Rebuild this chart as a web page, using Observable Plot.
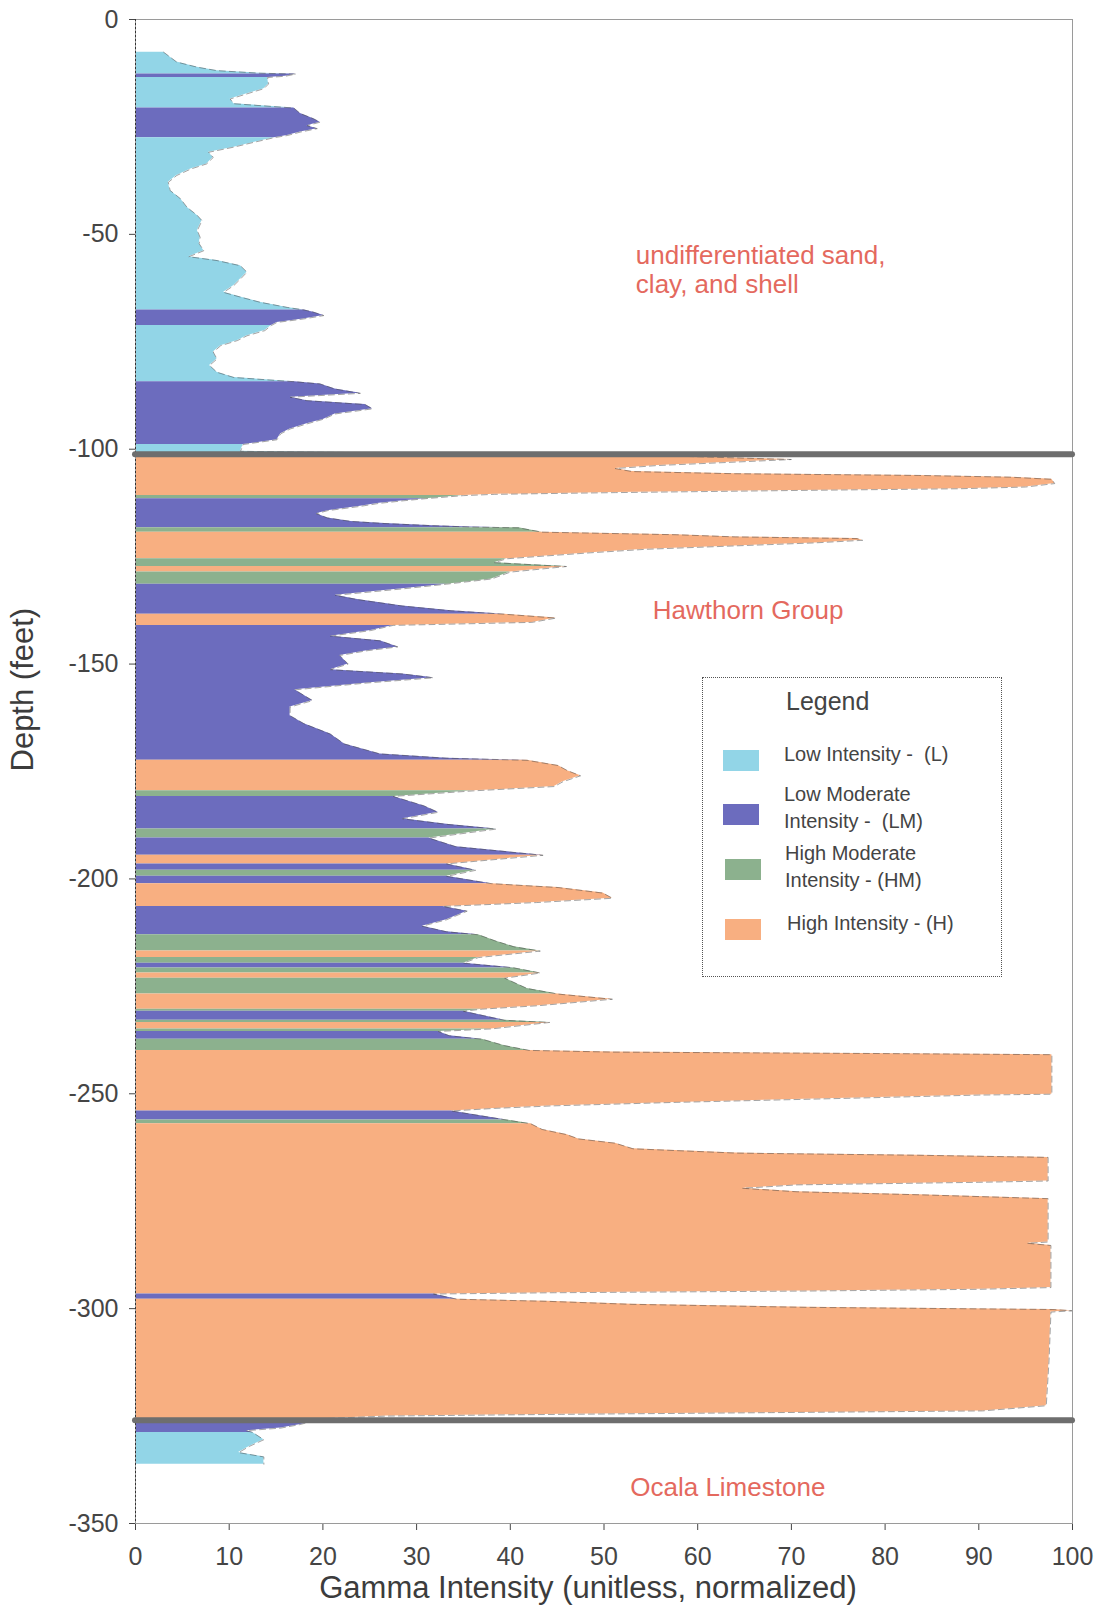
<!DOCTYPE html>
<html>
<head>
<meta charset="utf-8">
<script src="https://cdn.jsdelivr.net/npm/d3@7"></script>
<script src="https://cdn.jsdelivr.net/npm/@observablehq/plot@0.6"></script>
<style>
  body { margin: 0; background: #fff; font-family: "Liberation Sans", Arial, sans-serif; }
  #wrap { position: relative; width: 1100px; height: 1615px; }
  #legend { position: absolute; left: 702px; top: 677px; width: 300px; height: 300px;
            border: 1.5px dotted #555; box-sizing: border-box; color: #444; }
  #legend .title { position: absolute; left: 83px; top: 11px; font-size: 25px; line-height: 1; }
  #legend .sw { position: absolute; width: 36px; height: 21px; }
  #legend .lb { position: absolute; font-size: 20px; line-height: 26.7px; white-space: pre; }
</style>
</head>
<body>
<div id="wrap"></div>
<script>
// ---- intensity classes ----
const classKeys   = ["L", "LM", "HM", "H"];
const classColors = ["#92d5e7", "#6c6cbe", "#8cb18e", "#f8af81"];
const classLabels = ["Low Intensity -  (L)", "Low Moderate\nIntensity -  (LM)", "High Moderate\nIntensity - (HM)", "High Intensity - (H)"];

// ---- gamma log, one entry per class run (depth in feet, gamma unitless) ----
const runClass = ["L","LM","L","LM","L","LM","L","LM","L",
  "H","HM","LM","HM","H","HM","H","HM","LM","H","LM","H","HM","LM","HM","LM","H","LM","HM","LM",
  "H","LM","HM","H","HM","LM","HM","H","HM","H","HM","LM","HM","H","HM","LM","HM","H","LM","HM","H",
  "LM","H","LM","L"];
const runDepth = [
  [-7.6,-9.9,-11.1,-11.9,-12.5],
  [-12.7,-13.2],
  [-13.5,-15.0,-16.1,-17.3,-18.5,-19.6],
  [-20.6,-21.9,-23.1,-23.9,-24.7,-25.4,-26.2,-27.0],
  [-27.5,-28.6,-29.7,-30.9,-32.1,-33.6,-34.8,-36.3,-37.9,-39.8,-41.7,-43.7,-45.6,-46.8,-49.1,-50.7,-52.2,-53.8,-55.2,-56.1,-57.3,-58.8,-60.4,-61.9,-63.5,-64.6,-65.8,-67.0],
  [-67.6,-68.1,-68.9,-69.7,-70.5],
  [-71.2,-72.4,-73.6,-74.7,-75.9,-77.4,-79.0,-80.5,-82.1,-83.3],
  [-84.3,-84.8,-86.0,-87.0,-87.9,-88.7,-89.6,-90.6,-91.8,-93.0,-94.1,-95.3,-96.4,-97.8],
  [-98.9,-100.5],
  [-101.5,-102.4,-103.0,-103.8,-104.5,-105.2,-105.7,-106.1,-106.5,-107.0,-108.0,-108.8,-109.2,-109.6,-110.1,-110.5],
  [-110.8],
  [-111.5,-112.0,-112.6,-113.3,-114.3,-115.0,-116.0,-116.8,-117.3,-117.8,-118.1],
  [-118.3],
  [-119.3,-119.9,-120.4,-120.8,-121.2,-121.8,-122.5,-123.3,-124.1,-124.9],
  [-125.5,-126.4],
  [-127.3],
  [-128.6,-130.2],
  [-131.4,-132.5,-134.0,-135.0,-136.5,-137.6],
  [-138.4,-139.3,-140.3],
  [-141.0,-142.2,-143.5,-144.6,-146.0,-146.9,-148.0,-150.0,-151.3,-152.3,-153.2,-154.4,-156.0,-158.5,-160.0,-162.0,-163.9,-166.3,-168.6,-170.9,-171.9],
  [-172.4,-173.6,-174.8,-176.0,-177.4,-178.5],
  [-179.5],
  [-180.8,-183.0,-184.5,-186.0,-187.3],
  [-188.4],
  [-190.5,-192.5],
  [-194.5],
  [-196.5],
  [-198.0],
  [-199.4],
  [-201.1,-202.0,-203.3,-204.5,-205.5],
  [-206.4,-207.5,-209.5,-211.0,-212.3],
  [-213.0,-214.5,-215.8],
  [-216.8],
  [-218.3],
  [-219.6],
  [-220.7],
  [-221.9],
  [-223.1,-225.5],
  [-226.8,-228.0,-229.5],
  [-230.3],
  [-230.8],
  [-232.9],
  [-233.4],
  [-234.9],
  [-235.5,-236.5],
  [-237.3,-238.8],
  [-239.9,-240.3,-240.6,-240.9,-250.1,-250.3,-251.0,-252.0,-252.8,-253.4],
  [-254.0],
  [-256.1],
  [-257.0,-258.3,-259.5,-260.5,-261.5,-262.8,-263.8,-264.3,-264.8,-270.3,-270.6,-271.2,-272.0,-272.8,-273.5,-274.4,-284.5,-284.8,-285.3,-295.1,-295.5,-295.9,-296.3],
  [-296.6],
  [-297.8,-298.3,-299.0,-299.7,-300.2,-300.5,-300.8,-312.0,-322.6,-323.8,-324.2,-324.6,-325.0],
  [-325.6,-327.0,-327.8,-328.4],
  [-328.8,-330.5,-332.0,-333.5,-334.5,-336.2]
];
const runGamma = [
  [3.0,4.4,6.6,8.7,13.3],
  [17.1,16.0],
  [14.1,14.2,13.7,11.9,10.1,10.5],
  [16.9,17.6,19.0,19.7,18.3,19.4,17.6,16.2],
  [14.8,12.6,10.5,7.8,8.3,7.6,5.9,4.4,3.5,3.7,4.8,5.5,6.6,7.1,6.6,6.9,6.8,7.3,5.7,8.7,11.2,11.9,11.2,10.5,9.4,11.2,13.3,16.2],
  [18.0,19.0,20.1,17.9,15.1],
  [14.5,13.8,11.9,10.9,9.1,8.3,8.7,7.9,8.7,10.5],
  [17.0,19.7,21.3,24.0,16.5,18.3,24.5,25.3,21.3,20.1,18.3,16.5,15.5,15.1],
  [11.5,11.2],
  [56,70,64,55.7,51.2,53,64,83.6,93.3,97.8,98.1,95,88,70.6,51.2,38.3],
  [35],
  [31,28.6,26,24,20.5,19.3,20.5,23,26.6,31.8,35.7],
  [40.9],
  [43.4,57.7,64,77,77.6,72.5,64,54.4,48.6,43.4],
  [39.6,38.3],
  [46],
  [40,38],
  [33.2,28.5,21.3,23.7,28.5,33.7],
  [39.4,44.9,42.3],
  [27.5,25.1,20.8,26.1,28,24.7,21.8,22.7,20.8,28.5,31.8,24.7,17,18.9,16.5,16.5,18,20.8,22.3,26.1,33.2],
  [41.8,45.1,46.1,47.5,45.6,44.7],
  [36.1],
  [27.5,30.8,32.3,28.5,33.2],
  [38.5],
  [31.3,34.2],
  [43.5],
  [33.2],
  [36.3],
  [33.2],
  [38,45.1,49.9,50.9,42.8],
  [32.8,35.4,33.2,30.6,33.2],
  [36.6,38.5,40.4],
  [43.2],
  [36.6],
  [35],
  [40.4],
  [43.2],
  [39.4,41.8],
  [45.1,50.9,43],
  [37],
  [35],
  [39.4],
  [44.2],
  [38],
  [32.3,33.5],
  [37,39.4],
  [42,51,77,97.8,97.8,90,77,57.7,44.7,38.3],
  [33.7],
  [39.6],
  [42.2,43.4,46,47.3,51.2,53.1,64.1,83.6,97.4,97.4,90,70.6,64.8,70.6,83.6,97.4,97.4,95.2,97.7,97.7,90,71.9,44.7],
  [31.8],
  [34.3,44,53,71.7,97.9,100,97.7,97.5,97.2,90.4,67.9,45.5,26.8],
  [20,17.5,15.5,11.8],
  [12.5,13.7,12.2,11,13.7,13.7]
];

// ---- formations ----
const boundaryDepth = [-101.2, -326.0];
const formationName = ["undifferentiated sand,\nclay, and shell", "Hawthorn Group", "Ocala Limestone"];
const formationX = [53.4, 55.2, 52.8];
const formationY = [-58.1, -137.3, -341.5];

// ---- axes ----
const xTicks = [0, 10, 20, 30, 40, 50, 60, 70, 80, 90, 100];
const yTicks = [0, -50, -100, -150, -200, -250, -300, -350];
const xLabel = "Gamma Intensity (unitless, normalized)";
const yLabel = "Depth (feet)";

// build point table: the log is one continuous curve, each class band
// closes on the first reading of the band below it
const pts = [];
runClass.forEach((c, i) => {
  const d = runDepth[i], g = runGamma[i];
  const n = Math.min(d.length, g.length);
  for (let j = 0; j < n; j++) pts.push({depth: d[j], gamma: g[j], base: 0, cls: c, grp: i});
  if (i < runClass.length - 1) pts.push({depth: runDepth[i + 1][0], gamma: runGamma[i + 1][0], base: 0, cls: c, grp: i});
});
const curve = pts.filter((p, i) => i === 0 || !(p.depth === pts[i - 1].depth && p.gamma === pts[i - 1].gamma));

const chart = Plot.plot({
  width: 1100,
  height: 1615,
  marginLeft: 135,
  marginRight: 28,
  marginTop: 19,
  marginBottom: 92,
  style: {fontFamily: "'Liberation Sans', Arial, sans-serif", fontSize: "25px", color: "#454545", background: "white"},
  x: {domain: [0, 100], ticks: xTicks, label: null, tickSize: 7, tickPadding: 17},
  y: {domain: [-350, 0], ticks: yTicks, label: null, tickSize: 6, tickPadding: 11, tickFormat: d => String(d)},
  color: {domain: classKeys, range: classColors},
  marks: [
    Plot.areaX(pts, {y: "depth", x1: "base", x2: "gamma", z: "grp", fill: "cls", curve: "linear"}),
    Plot.line(curve, {x: "gamma", y: "depth", stroke: "#4a4a4a", strokeWidth: 1, strokeDasharray: "6,4", strokeOpacity: 0.5}),
    Plot.frame({stroke: "#9a9a9a"}),
    Plot.ruleX([0], {stroke: "#333", strokeDasharray: "2,2"}),
    Plot.ruleY(boundaryDepth, {stroke: "#6e6e6e", strokeWidth: 6, strokeLinecap: "round"}),
    Plot.text(formationName, {x: (d, i) => formationX[i], y: (d, i) => formationY[i], text: d => d,
      textAnchor: "start", fill: "#e4695e", fontSize: 26, lineHeight: 1.12}),
    Plot.text([xLabel], {frameAnchor: "bottom", dy: 74, dx: -16, text: d => d, fontSize: 31, fill: "#3c3c3c"}),
    Plot.text([yLabel], {frameAnchor: "left", dx: -112, rotate: -90, text: d => d, fontSize: 31, fill: "#3c3c3c"})
  ]
});

const wrap = document.getElementById("wrap");
wrap.appendChild(chart);

// legend box over the chart
const lg = d3.select(wrap).append("div").attr("id", "legend");
lg.append("div").attr("class", "title").text("Legend");
const swTop = [72, 126, 181, 241];
const swLeft = [20, 20, 22, 22];
const lbTop = [63, 103, 162, 232];
const lbLeft = [81, 81, 82, 84];
classKeys.forEach((k, i) => {
  lg.append("div").attr("class", "sw")
    .style("left", swLeft[i] + "px").style("top", swTop[i] + "px")
    .style("background", classColors[i]);
  lg.append("div").attr("class", "lb")
    .style("left", lbLeft[i] + "px").style("top", lbTop[i] + "px")
    .text(classLabels[i]);
});
</script>
</body>
</html>
